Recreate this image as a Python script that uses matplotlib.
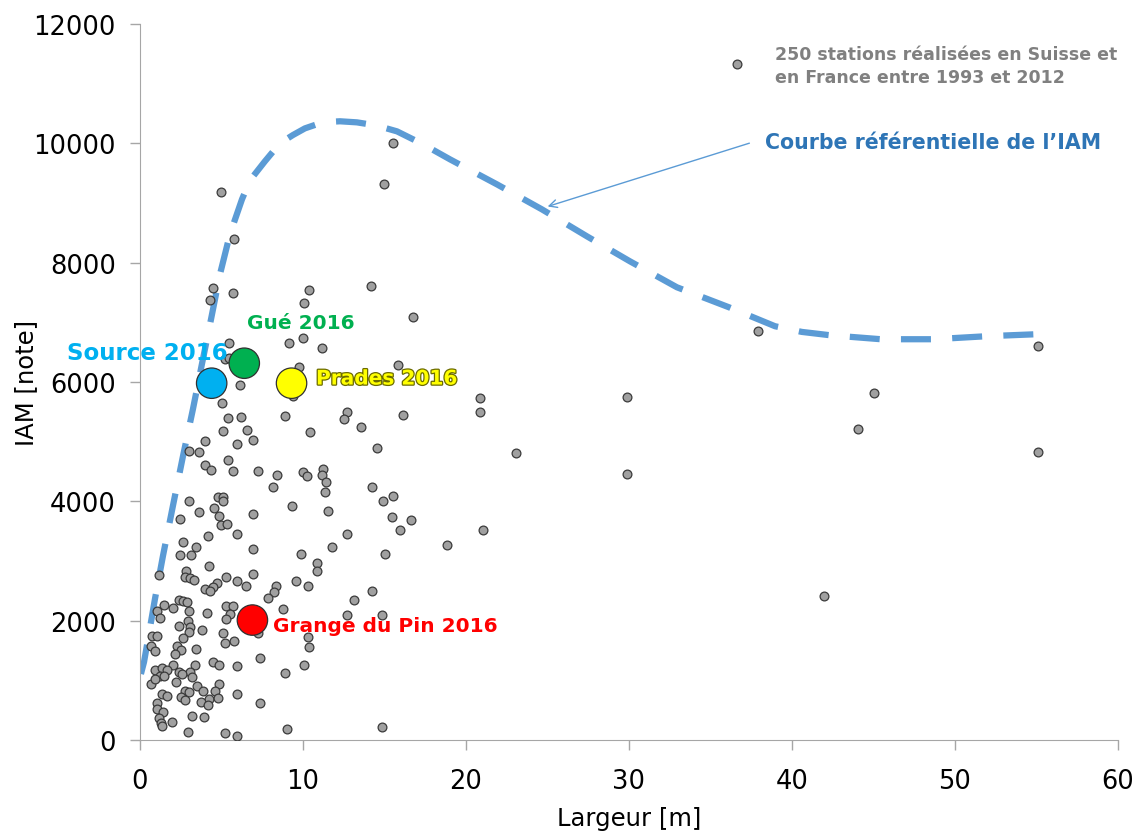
import numpy as np
import matplotlib
matplotlib.use('Agg')
import matplotlib.pyplot as plt
import matplotlib.patheffects as pe

plt.rcParams['font.family'] = ['DejaVu Sans']

# Stations (Largeur [m], IAM [note])
largeur = [5.03, 5.40, 6.20, 8.90, 5.09, 6.56, 10.43, 3.99, 5.95, 6.93,
           3.01, 3.62, 3.99, 4.36, 5.40, 5.71, 7.24, 8.40, 8.16, 10.0,
           10.25, 11.23, 11.17, 11.41, 11.35, 4.79, 5.09, 5.09, 3.01, 3.62,
           4.54, 4.85, 4.97, 5.34, 6.93, 9.33, 11.53, 2.45, 4.17, 5.95,
           2.64, 3.44, 2.45, 3.13, 6.93, 9.88, 4.23, 1.17, 10.86, 10.86,
           2.82, 2.76, 3.07, 3.31, 6.93, 5.28, 5.95, 4.72, 4.48, 3.99,
           4.29, 6.50, 9.57, 10.31, 8.34, 8.22, 7.85, 2.39, 2.64, 2.88,
           1.47, 2.02, 1.04, 3.01, 4.11, 5.28, 5.71, 5.52, 5.28, 8.77,
           1.23, 2.94, 2.39, 3.07, 3.80, 3.01, 2.64, 5.09, 7.24, 0.74,
           1.04, 5.21, 5.77, 10.31, 10.37, 0.67, 2.27, 2.52, 0.92, 3.44,
           2.15, 7.36, 4.48, 4.85, 5.95, 3.37, 2.02, 10.06, 0.92, 1.35,
           1.66, 2.39, 3.07, 1.23, 1.47, 2.58, 3.19, 0.67, 0.92, 2.21,
           8.90, 4.85, 3.50, 3.87, 2.76, 3.01, 4.60, 5.95, 1.35, 1.66,
           2.52, 2.76, 4.23, 4.79, 3.74, 4.17, 7.36, 1.04, 1.04, 1.41,
           3.19, 3.93, 1.17, 1.29, 1.96, 1.35, 2.94, 5.21, 5.95, 9.02,
           4.97, 5.77, 4.48, 4.29, 5.71, 10.37, 10.06, 5.46, 9.14, 10.0,
           11.17, 5.21, 5.46, 9.75, 6.13, 14.17, 16.75, 15.83, 9.39, 20.86,
           20.86, 12.70, 12.52, 16.13, 13.56, 14.54, 23.07, 14.23, 14.91, 15.52,
           15.46, 15.95, 16.63, 21.04, 18.83, 12.70, 11.78, 15.03, 14.23, 13.13,
           12.70, 14.85, 14.85, 15.52, 14.97, 37.91, 55.09, 45.03, 44.05, 55.09,
           29.88, 29.88, 41.96]
iam = [5645, 5394, 5410, 5427, 5176, 5193, 5159, 5008, 4958, 5025,
       4841, 4824, 4606, 4523, 4690, 4506, 4506, 4439, 4238, 4489,
       4422, 4539, 4439, 4322, 4154, 4070, 4070, 4003, 4003, 3819,
       3886, 3752, 3601, 3618, 3786, 3920, 3836, 3702, 3417, 3451,
       3317, 3233, 3099, 3099, 3199, 3116, 2915, 2764, 2965, 2831,
       2831, 2730, 2714, 2680, 2781, 2730, 2663, 2630, 2563, 2529,
       2496, 2580, 2663, 2580, 2580, 2479, 2379, 2345, 2328, 2312,
       2261, 2211, 2161, 2161, 2127, 2245, 2245, 2111, 2027, 2194,
       2044, 1993, 1910, 1893, 1843, 1809, 1709, 1792, 1792, 1742,
       1742, 1625, 1658, 1725, 1558, 1575, 1575, 1508, 1491, 1524,
       1441, 1374, 1307, 1256, 1240, 1256, 1256, 1256, 1173, 1206,
       1173, 1139, 1139, 1072, 1072, 1106, 1055, 938, 1022, 972,
       1122, 938, 905, 821, 821, 804, 821, 771, 771, 737,
       720, 670, 687, 704, 637, 586, 620, 620, 519, 469,
       402, 385, 369, 285, 302, 235, 134, 117, 67, 184,
       9179, 8392, 7571, 7370, 7487, 7538, 7320, 6650, 6650, 6734,
       6566, 6382, 6399, 6248, 5946, 7605, 7085, 6281, 5762, 5729,
       5494, 5494, 5377, 5444, 5243, 4891, 4807, 4238, 4003, 4087,
       3735, 3518, 3685, 3518, 3266, 3451, 3233, 3116, 2496, 2345,
       2094, 2094, 218, 10000, 9313, 6851, 6600, 5812, 5209, 4824,
       5745, 4456, 2412]

# Courbe referentielle de l'IAM
courbe_x = [0.06, 0.25, 0.55, 0.92, 1.41, 2.02, 2.64, 3.25, 3.80, 4.36,
            4.91, 5.52, 6.26, 6.75, 7.67, 8.28, 8.77, 9.39, 10.12, 10.86,
            11.60, 12.27, 13.31, 14.50, 15.77, 17.40, 19.02, 21.90, 24.66, 27.42,
            30.06, 32.94, 36.13, 38.96, 40.60, 42.33, 45.46, 48.71, 51.90, 54.91]
courbe_y = [1106, 1307, 1776, 2362, 3082, 3920, 4757, 5544, 6298, 7052,
            7806, 8476, 9062, 9380, 9700, 9900, 10033, 10140, 10251, 10320,
            10360, 10370, 10352, 10300, 10201, 9980, 9732, 9313, 8894, 8442,
            8023, 7588, 7253, 6935, 6840, 6784, 6717, 6717, 6767, 6800]

# Sites 2016
sites = ['Source 2016', 'Gué 2016', 'Prades 2016', 'Grange du Pin 2016']
sites_x = [4.4, 6.4, 9.3, 6.9]
sites_y = [5980, 6315, 5980, 2010]
sites_col = ['#00B0F0', '#00B050', '#FFFF00', '#FF0000']

fig = plt.figure(figsize=(11.35, 8.37), dpi=100)
ax = fig.add_axes([0.1233, 0.1147, 0.8617, 0.8554])

ax.plot(courbe_x, courbe_y, color='#5B9BD5', lw=4.5, dashes=(4.8, 3.4),
        dash_capstyle='butt', solid_joinstyle='round', zorder=2)
ax.scatter(largeur, iam, s=40, color='#A0A0A0', edgecolor='#3A3A3A',
           linewidths=0.9, zorder=3)
ax.scatter(sites_x, sites_y, s=480, c=sites_col, edgecolor='#303030',
           linewidths=0.9, zorder=4)

# labels of the sites
ax.text(5.4, 6500, sites[0], color=sites_col[0], fontsize=16.5,
        fontweight='bold', ha='right', va='center')
ax.text(6.56, 7000, sites[1], color=sites_col[1], fontsize=14.5,
        fontweight='bold', ha='left', va='center')
ax.text(10.8, 6050, sites[2], color=sites_col[2], fontsize=14.5,
        fontweight='bold', ha='left', va='center',
        path_effects=[pe.withStroke(linewidth=1.8, foreground='#6B6B00')])
ax.text(8.16, 1925, sites[3], color=sites_col[3], fontsize=14.5,
        fontweight='bold', ha='left', va='center')

# legend-like notes
ax.scatter([36.6], [11323], s=40, color='#A0A0A0', edgecolor='#3A3A3A',
           linewidths=0.9, clip_on=False)
ax.text(38.96, 11306, '250 stations réalisées en Suisse et\nen France entre 1993 et 2012',
        color='#808080', fontsize=12.5, fontweight='bold', va='center',
        linespacing=1.35)
ax.text(38.34, 10016, 'Courbe référentielle de l\u2019IAM', color='#2E75B6',
        fontsize=14.8, fontweight='bold', va='center')
ax.annotate('', xy=(24.85, 8928), xytext=(37.55, 10017),
            arrowprops=dict(arrowstyle='->', color='#5B9BD5', lw=1,
                            mutation_scale=14))

ax.set_xlim(0, 60)
ax.set_ylim(0, 12000)
ax.set_xticks(np.arange(0, 61, 10))
ax.set_yticks(np.arange(0, 12001, 2000))
for s in ['top', 'right']:
    ax.spines[s].set_visible(False)
for s in ['left', 'bottom']:
    ax.spines[s].set_color('#A6A6A6')
ax.tick_params(colors='#A6A6A6', length=7.5, width=1, labelcolor='black',
               labelsize=18.5)
ax.tick_params(axis='x', pad=13)
ax.tick_params(axis='y', pad=10)
ax.set_xlabel('Largeur [m]', fontsize=17.5, labelpad=8)
ax.set_ylabel('IAM [note]', fontsize=17.5)
ax.yaxis.set_label_coords(-0.104, 0.5)

fig.savefig('out.png', dpi=100)
